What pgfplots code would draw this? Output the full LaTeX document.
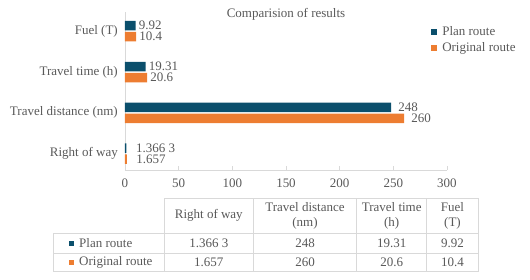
\documentclass[border=0pt]{standalone}
\usepackage{fontspec}
\setmainfont{Liberation Serif}
\usepackage{pgfplots}
\pgfplotsset{compat=1.18}
\definecolor{planc}{HTML}{0B4F6C}
\definecolor{origc}{HTML}{ED7D31}
\definecolor{txt}{HTML}{595959}
\definecolor{gridc}{HTML}{D9D9D9}
\newcommand\ff{\fontsize{13}{15}\selectfont}
\begin{document}
\begin{tikzpicture}
\useasboundingbox (0pt,0pt) rectangle (530pt,-279pt);
\begin{axis}[
  at={(125pt,-170pt)}, anchor=south west,
  scale only axis, width=322pt, height=158pt,
  xbar, bar width=9.5pt,
  xmin=0, xmax=300, ymin=-0.4, ymax=3.47,
  xtick={0,50,...,300},
  ytick={0,1,2,3},
  yticklabels={Right of way, Travel distance (nm), Travel time (h), Fuel (T)},
  axis x line*=bottom, axis y line*=left,
  axis line style={gridc, line width=0.75pt, -},
  xtick style={gridc, line width=0.75pt},
  ytick style={draw=none},
  x tick label style={font=\ff, text=txt, inner sep=0pt, anchor=north, yshift=-8.5pt},
  y tick label style={font=\ff, text=txt, inner sep=0pt, anchor=east, xshift=-7pt},
  /pgf/number format/assume math mode=true,
  tick align=inside, major tick length=4pt,
  legend style={at={(axis description cs:0.949,0.908)}, anchor=north west, draw=none, fill=none,
    inner sep=0pt, row sep=5pt, column sep=5.5pt, font=\ff, text=txt, nodes={inner sep=0pt}},
  legend cell align=left,
  legend image code/.code={\fill[#1] (0pt,-3pt) rectangle (6pt,3pt);},
  nodes near coords, point meta=explicit symbolic,
  every node near coord/.append style={anchor=west, inner sep=0pt, xshift=3pt, font=\ff, text=txt},
  clip=false,
]
\addplot[fill=planc, draw=none, bar shift=5.5pt] coordinates {
  (1.3663,0) [\hspace{6.5pt}1.366 3]
  (248,1) [\hspace{4pt}248]
  (19.31,2) [19.31]
  (9.92,3) [9.92]
};
\addplot[fill=origc, draw=none, bar shift=-5.5pt] coordinates {
  (1.657,0) [\hspace{6.5pt}1.657]
  (260,1) [\hspace{4pt}260]
  (20.6,2) [20.6]
  (10.4,3) [10.4]
};
\legend{Plan route, Original route}
\node[font=\ff, text=txt, inner sep=0pt] at (axis description cs:0.5,0.987) {Comparision of results};
\end{axis}
\begin{scope}[x=1pt, y=-1pt]
  \draw[gridc, line width=0.75pt] (164.3,198.3) -- (478.3,198.3);
  \draw[gridc, line width=0.75pt] (53.3,233.3) -- (478.3,233.3);
  \draw[gridc, line width=0.75pt] (53.3,253.3) -- (478.3,253.3);
  \draw[gridc, line width=0.75pt] (53.3,271.7) -- (478.3,271.7);
  \draw[gridc, line width=0.75pt] (53.3,233.3) -- (53.3,271.7);
  \foreach \cx in {164.3,253.3,356.7,426.7,478.3}
    \draw[gridc, line width=0.75pt] (\cx,198.3) -- (\cx,271.7);
  \tikzset{tt/.style={font=\ff, text=txt, inner sep=0pt, align=center}}
  \node[tt] at (208.8,215.8) {Right of way};
  \node[tt] at (305,215.8) {Travel distance\\(nm)};
  \node[tt] at (391.7,215.8) {Travel time\\(h)};
  \node[tt] at (452.5,215.8) {Fuel\\(T)};
  \fill[planc] (69,241.3) rectangle (73.5,245.8);
  \fill[origc] (69,260.3) rectangle (73.5,264.8);
  \node[tt, anchor=west] at (79,243.3) {Plan route};
  \node[tt, anchor=west] at (79,262.3) {Original route};
  \node[tt] at (208.8,243.3) {1.366 3};
  \node[tt] at (305,243.3) {248};
  \node[tt] at (391.7,243.3) {19.31};
  \node[tt] at (452.5,243.3) {9.92};
  \node[tt] at (208.8,262.3) {1.657};
  \node[tt] at (305,262.3) {260};
  \node[tt] at (391.7,262.3) {20.6};
  \node[tt] at (452.5,262.3) {10.4};
\end{scope}
\end{tikzpicture}
\end{document}
